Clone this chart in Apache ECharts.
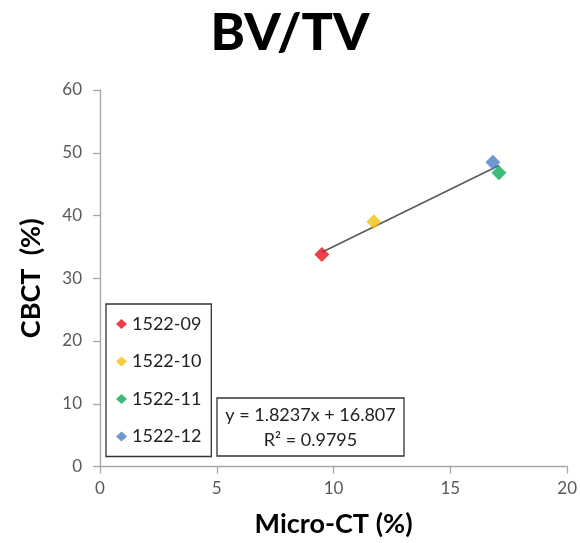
<!DOCTYPE html>
<html><head><meta charset="utf-8">
<script src="https://cdn.jsdelivr.net/npm/echarts@6/dist/echarts.min.js"></script>
<style>html,body{margin:0;padding:0;background:#fff}#c{width:580px;height:543px}</style>
</head><body><div id="c"></div>
<script>
const seriesNames = ['1522-09', '1522-10', '1522-11', '1522-12'];
const microCT = [9.5, 11.72, 17.08, 16.82];
const cbct = [33.8, 39.0, 46.8, 48.5];
const colors = ['#e3101e', '#f2c011', '#10a95a', '#4a7fc4'];
const slope = 1.8237, intercept = 16.807, r2 = 0.9795;
const xTicks = [0, 5, 10, 15, 20];
const yTicks = [0, 10, 20, 30, 40, 50, 60];

const FONT = 'Lato';
const chart = echarts.init(document.getElementById('c'), null, {renderer: 'canvas'});
const xMin = Math.min(...microCT), xMax = Math.max(...microCT);
const trend = [[xMin, slope * xMin + intercept], [xMax, slope * xMax + intercept]];

const series = [{
  type: 'line', data: trend, symbol: 'none', silent: true,
  lineStyle: {color: '#5a5a5a', width: 1.6}, z: 1
}];
seriesNames.forEach((n, i) => {
  series.push({
    name: n, type: 'scatter', symbol: 'diamond', symbolSize: 15,
    itemStyle: {color: colors[i]}, data: [[microCT[i], cbct[i]]], z: 3
  });
});

chart.setOption({
  animation: false,
  textStyle: {fontFamily: FONT},
  title: {text: 'BV/TV', left: 'center', top: 2,
    textStyle: {fontFamily: FONT, fontWeight: 900, fontSize: 52, color: '#000'}},
  grid: {left: 100, right: 12, top: 90, bottom: 76.5},
  xAxis: {
    type: 'value', min: xTicks[0], max: xTicks[xTicks.length - 1], interval: 5,
    name: 'Micro-CT (%)', nameLocation: 'middle', nameGap: 44,
    nameTextStyle: {fontFamily: FONT, fontWeight: 'bold', fontSize: 27, color: '#000'},
    axisLine: {lineStyle: {color: '#a6a6a6', width: 1.3}},
    axisTick: {show: true, length: 7, lineStyle: {color: '#a6a6a6', width: 1.3}},
    axisLabel: {color: '#595959', fontSize: 17, margin: 14, fontFamily: FONT},
    splitLine: {show: false}
  },
  yAxis: {
    type: 'value', min: yTicks[0], max: yTicks[yTicks.length - 1], interval: 10,
    name: 'CBCT  (%)', nameLocation: 'middle', nameGap: 55,
    nameTextStyle: {fontFamily: FONT, fontWeight: 'bold', fontSize: 27, color: '#000'},
    axisLine: {show: true, lineStyle: {color: '#a6a6a6', width: 1.3}},
    axisTick: {show: true, length: 7, lineStyle: {color: '#a6a6a6', width: 1.3}},
    axisLabel: {color: '#595959', fontSize: 17, margin: 18, fontFamily: FONT},
    splitLine: {show: false}
  },
  legend: {
    data: seriesNames.map(n => ({name: n, icon: 'diamond'})),
    orient: 'vertical', left: 106, top: 304,
    itemWidth: 11, itemHeight: 10, itemGap: 17.5,
    padding: [10, 10, 10, 10],
    borderColor: '#333', borderWidth: 1.3,
    textStyle: {fontFamily: FONT, fontSize: 18, color: '#222', lineHeight: 20}
  },
  graphic: [{
    type: 'rect', shape: {x: 217, y: 398, width: 187, height: 58},
    style: {fill: '#fff', stroke: '#333', lineWidth: 1.3}, z: 10
  }, {
    type: 'text', x: 310.5, y: 403, z: 11,
    style: {
      text: 'y = ' + slope + 'x + ' + intercept + '\nR² = ' + r2,
      fontFamily: FONT, fontSize: 18, lineHeight: 25, fill: '#222',
      align: 'center', verticalAlign: 'top'
    }
  }],
  series: series
});
</script></body></html>
